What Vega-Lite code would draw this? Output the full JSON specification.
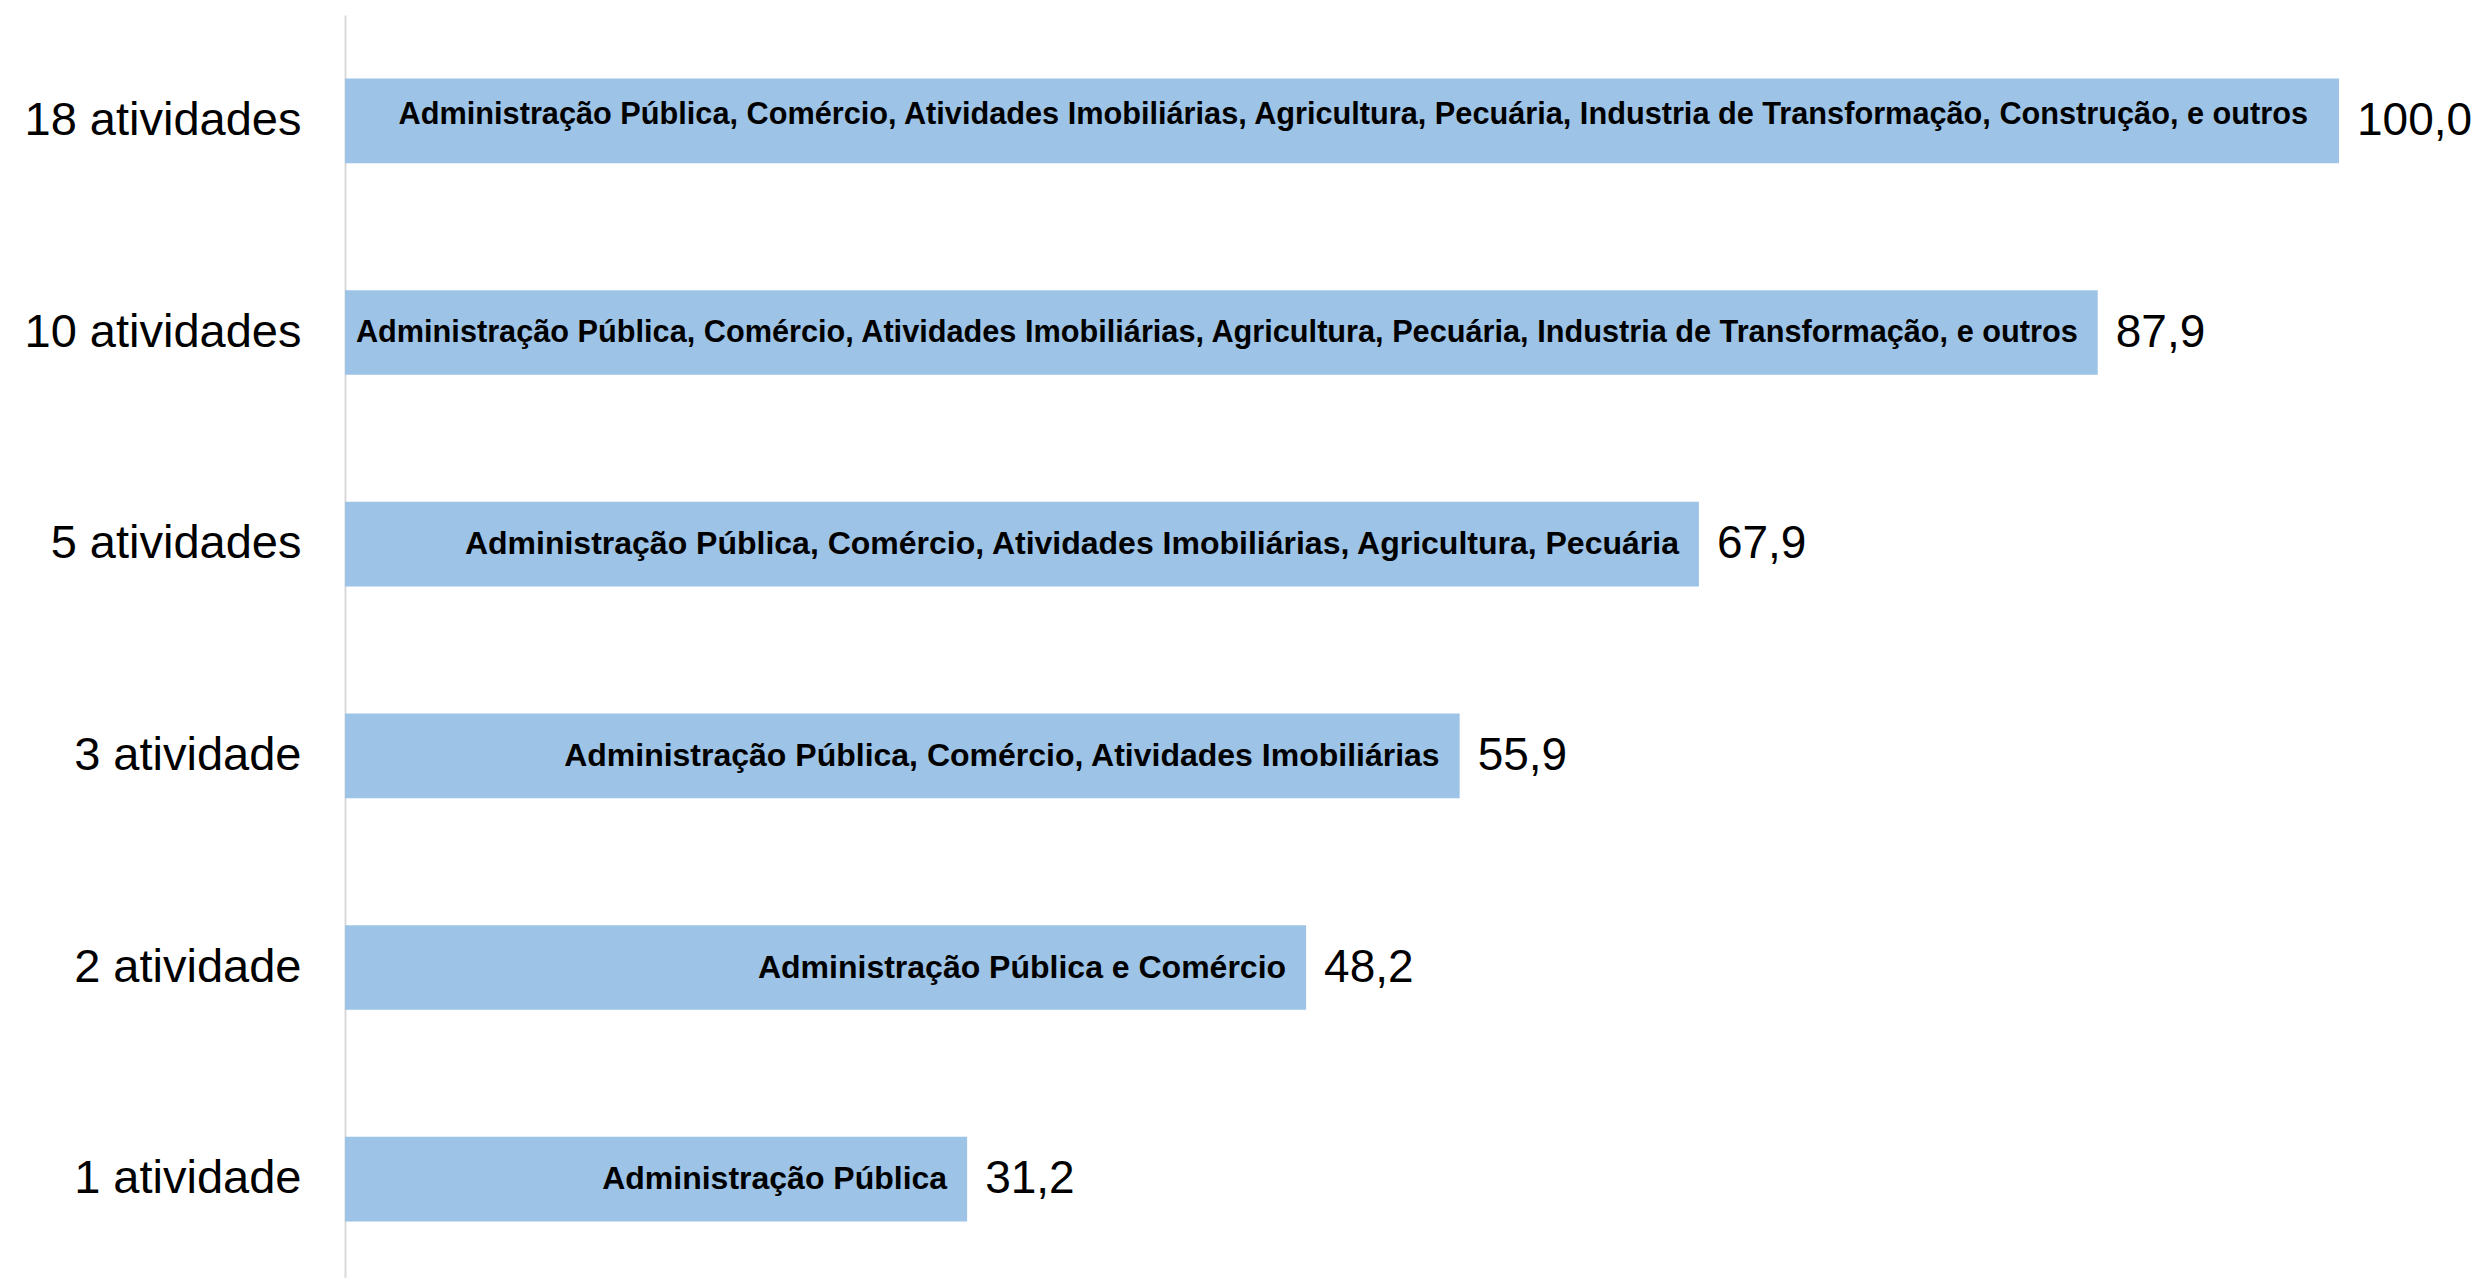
{
  "$schema": "https://vega.github.io/schema/vega-lite/v6.json",
  "autosize": "none",
  "padding": {"left": 345, "top": 15, "right": 142, "bottom": 0},
  "width": 1994,
  "height": 1270,
  "background": "white",
  "config": {"view": {"stroke": null}, "font": "Liberation Sans"},
  "data": {
    "values": [
      {"grupo": "18 atividades", "valor": 100.0, "rotulo": "100,0", "atividades": "Administração Pública, Comércio, Atividades Imobiliárias, Agricultura, Pecuária, Industria de Transformação, Construção, e outros"},
      {"grupo": "10 atividades", "valor": 87.9, "rotulo": "87,9", "atividades": "Administração Pública, Comércio, Atividades Imobiliárias, Agricultura, Pecuária, Industria de Transformação, e outros"},
      {"grupo": "5 atividades", "valor": 67.9, "rotulo": "67,9", "atividades": "Administração Pública, Comércio, Atividades Imobiliárias, Agricultura, Pecuária"},
      {"grupo": "3 atividade", "valor": 55.9, "rotulo": "55,9", "atividades": "Administração Pública, Comércio, Atividades Imobiliárias"},
      {"grupo": "2 atividade", "valor": 48.2, "rotulo": "48,2", "atividades": "Administração Pública e Comércio"},
      {"grupo": "1 atividade", "valor": 31.2, "rotulo": "31,2", "atividades": "Administração Pública"}
    ]
  },
  "encoding": {
    "y": {
      "field": "grupo",
      "type": "nominal",
      "sort": null,
      "scale": {"paddingInner": 0.6, "paddingOuter": 0.3},
      "axis": {
        "title": null,
        "ticks": false,
        "tickSize": 0,
        "domainColor": "#d9d9d9",
        "domainWidth": 2,
        "labelFontSize": 47,
        "labelColor": "black",
        "labelPadding": 44,
        "labelLimit": 0,
        "labelFont": "Liberation Sans"
      }
    },
    "x": {
      "field": "valor",
      "type": "quantitative",
      "scale": {"domain": [0, 100], "nice": false},
      "axis": null
    }
  },
  "layer": [
    {"mark": {"type": "bar", "color": "#9dc3e6"}},
    {
      "mark": {"type": "text", "align": "left", "dx": 18, "fontSize": 46, "color": "black", "font": "Liberation Sans"},
      "encoding": {"text": {"field": "rotulo"}}
    },
    {
      "transform": [{"filter": "datum.valor < 100"}],
      "mark": {"type": "text", "align": "right", "dx": -20, "fontWeight": "bold", "color": "black", "font": "Liberation Sans"},
      "encoding": {
        "text": {"field": "atividades"},
        "size": {"condition": {"test": "datum.valor >= 80", "value": 30.7}, "value": 32}
      }
    },
    {
      "transform": [{"filter": "datum.valor >= 100"}],
      "mark": {"type": "text", "align": "right", "dx": -31, "dy": -6, "fontSize": 30.7, "fontWeight": "bold", "color": "black", "font": "Liberation Sans"},
      "encoding": {
        "text": {"field": "atividades"}
      }
    }
  ]
}
